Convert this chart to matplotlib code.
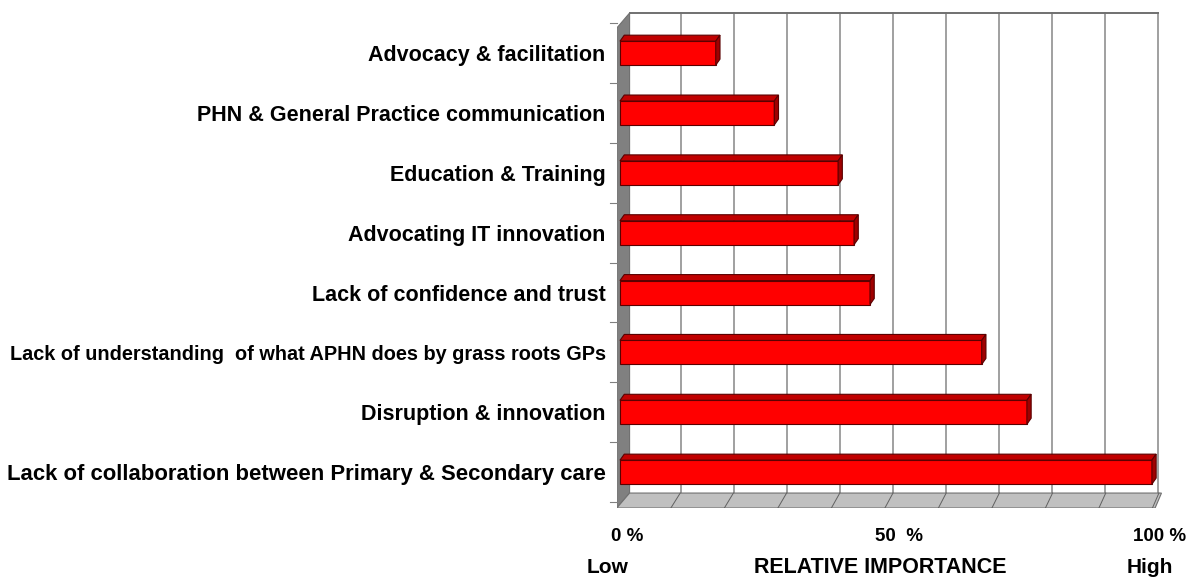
import numpy as np
import matplotlib.pyplot as plt
from matplotlib.patches import Polygon
from matplotlib.transforms import blended_transform_factory

plt.rcParams["font.family"] = ["Liberation Sans", "DejaVu Sans"]
plt.rcParams["font.weight"] = "bold"

# data (bottom to top)
categories = [
    "Lack of collaboration between Primary & Secondary care",
    "Disruption & innovation",
    "Lack of understanding  of what APHN does by grass roots GPs",
    "Lack of confidence and trust",
    "Advocating IT innovation",
    "Education & Training",
    "PHN & General Practice communication",
    "Advocacy & facilitation",
]
values = [100, 76.5, 68, 47, 44, 41, 29, 18]
tick_pos = [1.3, 52.4, 101.5]
tick_labels = ["0 %", "50  %", "100 %"]

# 3d look
DX, DY = 2.4, 0.25        # depth of the box
BDX, BDY = 0.8, 0.1       # depth of each bar
BH = 0.4                  # bar height
Y0, Y1 = -0.6, 7.42       # floor front / wall top front
X0 = -0.6

fig = plt.figure(figsize=(11.97, 5.79), dpi=100)
ax = fig.add_axes([0.5153, 0.1226, 0.4648, 0.858])
ax.set_xlim(X0, 104)
ax.set_ylim(Y0, 7.7)
for s in ax.spines.values():
    s.set_visible(False)

grid_c = "#a0a0a0"
# left wall
ax.add_patch(Polygon([(X0, Y0), (X0, Y1), (X0 + DX, Y1 + DY), (X0 + DX, Y0 + DY)],
                     closed=True, fc="#808080", ec="#707070", lw=0.8, zorder=1))
# floor
ax.add_patch(Polygon([(X0, Y0), (100.6, Y0), (100.6 + DX * 0.5, Y0 + DY), (X0 + DX, Y0 + DY)],
                     closed=True, fc="#c0c0c0", ec="#707070", lw=0.8, zorder=1))
# back wall grid
for g in np.arange(10, 101, 10):
    gx = g + DX * 0.5 + 0.1 * (100 - g) / 100 * DX
    ax.plot([gx, gx], [Y0 + DY, Y1 + DY], color=grid_c, lw=1.4, zorder=0.5)
    ax.plot([g * 1.006 - 0.5, g + DX * 0.55], [Y0, Y0 + DY], color="#606060", lw=0.7, zorder=1.5)
ax.plot([X0 + DX, 100 + DX * 0.5], [Y1 + DY, Y1 + DY], color="#707070", lw=1.4, zorder=0.5)

# boundary ticks on wall edge
for b in np.arange(-0.5, 7.6, 1.0):
    ax.plot([X0 - 1.2, X0], [b, b], color="#808080", lw=0.8, clip_on=False)

# bars
y = np.arange(len(categories))
for yi, v in zip(y, values):
    lo, hi = yi - BH / 2, yi + BH / 2
    ax.add_patch(Polygon([(0, lo), (v, lo), (v, hi), (0, hi)], closed=True,
                         fc="#ff0000", ec="#5a0000", lw=0.8, zorder=3))
    ax.add_patch(Polygon([(0, hi), (v, hi), (v + BDX, hi + BDY), (BDX, hi + BDY)], closed=True,
                         fc="#c00000", ec="#5a0000", lw=0.8, zorder=3))
    ax.add_patch(Polygon([(v, lo), (v + BDX, lo + BDY), (v + BDX, hi + BDY), (v, hi)], closed=True,
                         fc="#a00000", ec="#5a0000", lw=0.8, zorder=3))

ax.set_yticks(y)
ax.set_yticklabels(categories, fontsize=15.5, fontweight="bold")
ax.tick_params(axis="y", length=0, pad=8)
# the long label is set smaller in the original
ax.get_yticklabels()[2].set_fontsize(14.3)
ax.get_yticklabels()[0].set_fontsize(15.9)
ax.set_xticks([])

tr = blended_transform_factory(ax.transData, ax.transAxes)
for p, lab in zip(tick_pos, tick_labels):
    ax.text(p, -0.058, lab, transform=tr, ha="center", va="center",
            fontsize=13.5, fontweight="bold")
ax.text(-2.4, -0.119, "Low", transform=tr, ha="center", va="center", fontsize=15, fontweight="bold")
ax.text(49, -0.119, "RELATIVE IMPORTANCE", transform=tr, ha="center", va="center",
        fontsize=15.5, fontweight="bold")
ax.text(99.6, -0.119, "High", transform=tr, ha="center", va="center", fontsize=15, fontweight="bold")

fig.savefig("out.png", dpi=100)
